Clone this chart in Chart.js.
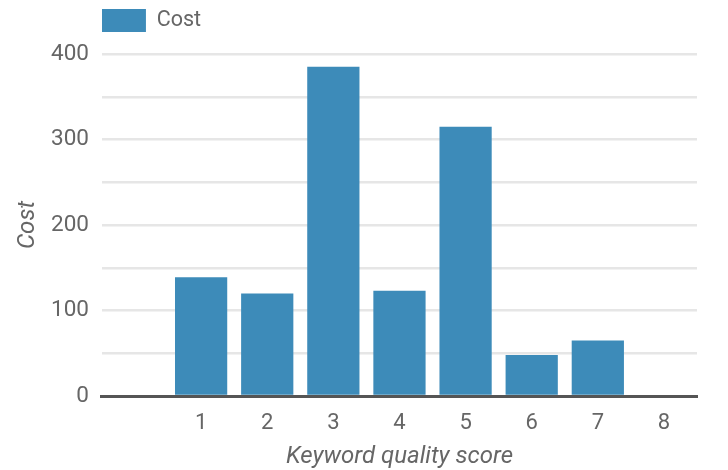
<!DOCTYPE html>
<html>
<head>
<meta charset="utf-8">
<script src="https://cdn.jsdelivr.net/npm/chart.js@4/dist/chart.umd.min.js"></script>
<style>
  html, body { margin: 0; padding: 0; background: #fff; }
  #wrap { width: 728px; height: 470px; }
</style>
</head>
<body>
<div id="wrap"><canvas id="c" width="728" height="470"></canvas></div>
<script>
// Keyword quality scores on the x axis (first slot left empty)
const scores = ['', '1', '2', '3', '4', '5', '6', '7', '8'];
// Total cost per quality score
const costs = [null, 139, 120, 385, 123, 315, 48, 65, 0];
// Y axis bounds and grid spacing
const yMin = 0;
const yMax = 400;
const yStep = 50;
const yLabelEvery = 100;

const textColor = '#666666';
const fontFamily = 'Roboto, "Noto Sans", sans-serif';

// Adds extra space between the legend and the plot area
const legendGap = {
  id: 'legendGap',
  beforeInit(chart) {
    const fit = chart.legend.fit;
    chart.legend.fit = function () {
      fit.call(this);
      this.height += 12;
    };
  }
};

new Chart(document.getElementById('c'), {
  type: 'bar',
  data: {
    labels: scores,
    datasets: [{
      label: 'Cost',
      data: costs,
      backgroundColor: '#3d8bb9',
      borderWidth: 0,
      barPercentage: 0.79,
      categoryPercentage: 1.0
    }]
  },
  options: {
    responsive: false,
    animation: false,
    layout: { padding: { left: 16, right: 31, top: 9, bottom: 0.6 } },
    plugins: {
      legend: {
        position: 'top',
        align: 'start',
        fullSize: false,
        labels: {
          boxWidth: 44,
          boxHeight: 23,
          padding: 0,
          color: textColor,
          font: { family: fontFamily, size: 21.5 }
        }
      },
      tooltip: { enabled: false }
    },
    scales: {
      x: {
        grid: { display: false, drawTicks: false },
        border: { display: true, color: '#555555', width: 3 },
        ticks: {
          color: textColor,
          padding: 14,
          font: { family: fontFamily, size: 22 }
        },
        title: {
          display: true,
          text: 'Keyword quality score',
          color: textColor,
          padding: { top: -5, bottom: 0 },
          font: { family: fontFamily, size: 24, style: 'italic', lineHeight: 1 }
        }
      },
      y: {
        min: yMin,
        max: yMax,
        grid: { color: '#e6e6e6', lineWidth: 2.5, drawTicks: false },
        border: { display: false },
        ticks: {
          stepSize: yStep,
          color: textColor,
          padding: 13,
          font: { family: fontFamily, size: 22.5 },
          callback: (v) => (v % yLabelEvery === 0 ? v : '')
        },
        title: {
          display: true,
          text: 'Cost',
          color: textColor,
          padding: { top: 0, bottom: -2 },
          font: { family: fontFamily, size: 24, style: 'italic', lineHeight: 1 }
        }
      }
    }
  },
  plugins: [legendGap]
});
</script>
</body>
</html>
